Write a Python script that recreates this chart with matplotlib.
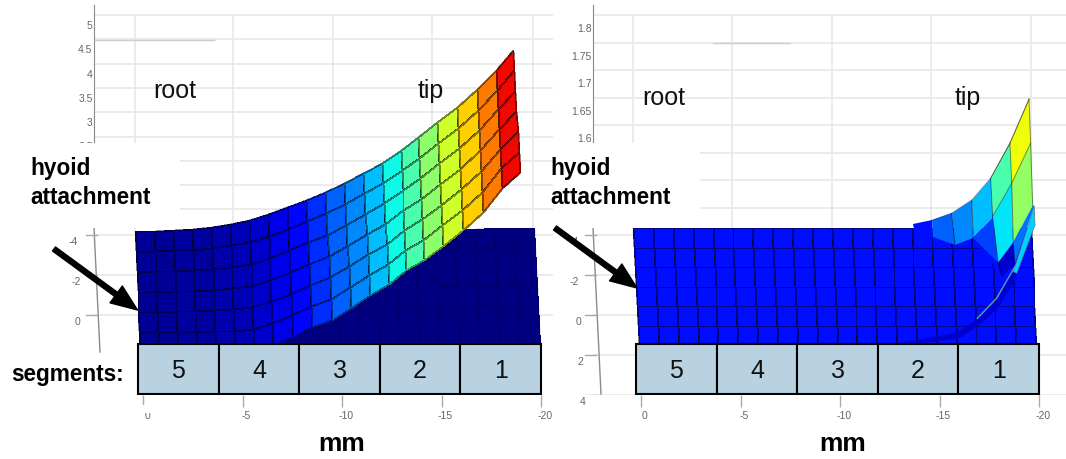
import numpy as np
import matplotlib
matplotlib.use("Agg")
import matplotlib.pyplot as plt
from matplotlib.patches import Rectangle
from matplotlib.transforms import ScaledTranslation

plt.rcParams['font.family'] = ['Liberation Sans', 'DejaVu Sans']

W, H = 1066, 459

# segment boxes (mm along the tongue)
segment_edges = [0.25, -3.8, -7.85, -11.9, -15.95, -20.0]
segment_names = ["5", "4", "3", "2", "1"]
x_ticks = [0, -5, -10, -15, -20]

# --- left panel: bent surface, root to tip ---
left_top_x = [0.40, -0.55, -1.51, -2.46, -3.42, -4.37, -5.33, -6.28, -7.24, -8.19, -9.15,
              -10.10, -11.06, -12.01, -12.96, -13.82, -14.77, -15.78, -16.78, -17.74, -18.59]
left_top_y = [-4.18, -4.2, -4.25, -4.3, -4.4, -4.55, -4.75, -5.05, -5.4, -5.75, -6.15,
              -6.6, -7.1, -7.6, -8.25, -8.9, -9.65, -10.4, -11.3, -12.25, -13.25]
left_bot_x = [0.15, -0.80, -1.76, -2.71, -3.67, -4.62, -5.58, -6.53, -7.54, -8.49, -9.50,
              -10.45, -11.41, -12.36, -13.22, -14.12, -15.08, -16.08, -17.09, -18.04, -18.94]
left_bot_y = [1.85, 1.85, 1.85, 1.85, 1.85, 1.85, 1.8, 1.5, 1.1, 0.6, 0.25,
              -0.35, -1.0, -1.55, -2.25, -2.75, -3.45, -4.25, -5.15, -6.35, -7.15]
left_vals = [0.02, 0.02, 0.03, 0.03, 0.04, 0.05, 0.07, 0.09, 0.13, 0.17,
             0.22, 0.26, 0.31, 0.37, 0.44, 0.52, 0.60, 0.69, 0.78, 0.90]
left_flat_x = [0.40, -19.65, -19.95, 0.15]  # tl, tr, br, bl
left_flat_y = [-4.15, -4.35, 1.45, 1.45]
left_flat_val = 0.0

# --- right panel: flat sheet with curled tip ---
right_flat_x = [0.40, -19.6, -19.85, 0.10]
right_flat_y = [-4.35, -4.35, 1.5, 1.5]
right_flat_val = 0.14

# curled part, one row per list, columns run towards the tip
curl_x = [[-13.68, -14.64, -15.61, -16.62, -17.57, -18.54, -19.50],
          [-13.72, -14.69, -15.78, -16.70, -17.67, -18.63, -19.58],
          [-13.72, -14.69, -15.78, -16.70, -17.95, -18.71, -19.68],
          [-13.72, -14.69, -15.78, -16.70, -18.13, -18.79, -19.76]]
curl_y = [[-4.55, -4.75, -5.09, -5.75, -6.84, -8.59, -10.79],
          [-4.3, -3.92, -3.5, -3.84, -4.92, -6.59, -8.59],
          [-4.3, -3.92, -3.5, -3.84, -2.59, -3.59, -5.5],
          [-4.3, -3.92, -3.5, -3.84, -1.92, -2.59, -5.42]]
curl_vals = [[0.14, 0.22, 0.26, 0.31, 0.44, 0.64],
             [0.14, 0.14, 0.14, 0.19, 0.35, 0.53],
             [0.14, 0.14, 0.14, 0.14, 0.07, 0.24]]

strip_x = [-19.76, -19.80, -18.88, -18.71]
strip_y = [-5.42, -4.5, -2.08, -2.17]
band_x = [-18.79, -17.90, -16.9, -15.86, -13.85, -13.02, -12.01,
          -12.01, -13.02, -16.0, -17.0, -18.0, -18.88]
band_y = [-2.42, -0.75, 0.22, 0.89, 1.25, 1.39, 1.45,
          1.55, 1.55, 1.17, 0.5, -0.42, -1.92]
edge_line_x = [-18.79, -17.87, -16.9]
edge_line_y = [-2.42, -0.84, 0.17]

# axis ticks of the 3D box
left_z_ticks = [5, 4.5, 4, 3.5, 3, 2.5, 2, 1.5, 1]
left_z_labels = ["5", "4.5", "4", "3.5", "3", "2.5", "", "", ""]
right_z_ticks = [1.8, 1.75, 1.7, 1.65, 1.6, 1.55, 1.5, 1.45]
right_z_labels = ["1.8", "1.75", "1.7", "1.65", "1.6", "", "", ""]
left_wall_x = [0.40, -4.52, -9.55, -14.52, -19.6]
right_wall_x = [0.40, -4.57, -9.6, -14.57, -19.6]
left_y_ticks = [-4, -2, 0]
left_y_label_x = [3.52, 3.37, 3.27]
right_y_ticks = [-4, -2, 0, 2, 4]
right_y_label_x = [3.37, 3.34, 3.16, 3.03, 2.93]

GRID = "#e8e8e8"
AXC = "#8a8a8a"
TXT = "#666666"


def mesh(top_x, top_y, bot_x, bot_y, rows=6):
    X = np.linspace(top_x, bot_x, rows + 1)
    Y = np.linspace(top_y, bot_y, rows + 1)
    return X, Y


def flat_mesh(cx, cy, cols=20, rows=6):
    return mesh(np.linspace(cx[0], cx[1], cols + 1), np.linspace(cy[0], cy[1], cols + 1),
                np.linspace(cx[3], cx[2], cols + 1), np.linspace(cy[3], cy[2], cols + 1), rows)


def rect(fig, x0, x1, y0, y1):
    return fig.add_axes([x0 / W, 1 - y1 / H, (x1 - x0) / W, (y1 - y0) / H])


def draw_mesh(ax, X, Y, C, zorder, alpha=0.45, lw=0.6):
    ax.pcolormesh(X, Y, C, cmap="jet", vmin=0, vmax=1, shading="flat",
                  edgecolors=(0, 0, 0, alpha), linewidth=lw, zorder=zorder)


def make_panel(fig, px0, px1, origin, wall_x, z_ticks, z_labels, z_top, z_per_px, y_ticks,
               y_label_x, spine_px, label_drop, xlabel_px, dark):
    scale = 19.9
    xl = ((origin - px0) / scale, (origin - px1) / scale)

    # back wall: z axis and its grid
    zax = rect(fig, spine_px[0], px1, 5, 225)
    zax.set_zorder(1)
    zax.set_xlim((origin - spine_px[0]) / scale, xl[1])
    zax.set_ylim(z_top - (225 - 15) * z_per_px, z_top + 10 * z_per_px)
    zax.set_yticks(z_ticks)
    zax.set_yticklabels(z_labels, fontsize=7.5, color=TXT)
    zax.set_xticks([])
    zax.tick_params(axis="y", length=0, pad=1)
    zax.grid(axis="y", color=GRID, lw=1.2)
    zax.set_axisbelow(True)
    for s in ["top", "right", "bottom"]:
        zax.spines[s].set_visible(False)
    zax.spines["left"].set_color(AXC)
    zax.patch.set_alpha(0)
    for lab in zax.get_yticklabels():
        lab.set_transform(lab.get_transform() + ScaledTranslation(0, -label_drop / 100, fig.dpi_scale_trans))

    # main axes in mm
    ax = rect(fig, px0, px1, 0, 395)
    ax.set_zorder(2)
    ax.patch.set_alpha(0)
    ax.set_xlim(*xl)
    ax.set_ylim(4, -15.75)
    for s in ax.spines.values():
        s.set_visible(False)
    ax.set_yticks([])
    ax.set_xticks(x_ticks)
    ax.set_xticklabels([str(v) for v in x_ticks], fontsize=7.5, color=TXT)
    ax.tick_params(axis="x", length=8.6, width=1, color="#aaaaaa", pad=3)
    for lab in ax.get_xticklabels():
        lab.set_transform(lab.get_transform() + ScaledTranslation(0.04, 0, fig.dpi_scale_trans))
    ax.set_xlabel("mm", fontsize=19, fontweight="bold", labelpad=8,
                  x=(xlabel_px - px0) / (px1 - px0))

    ax.vlines(wall_x, -15, -4, color=GRID, lw=1.2, zorder=0)
    ax.hlines(y_ticks, (origin - spine_px[0]) / scale, xl[1], color=GRID, lw=1.2, zorder=0)
    ax.plot([(origin - spine_px[0]) / scale, (origin - spine_px[1]) / scale],
            [-4.35, spine_px[2]], color=AXC, lw=1, zorder=1)
    for t, lx in zip(y_ticks, y_label_x):
        ax.text(lx, t + 0.35, str(t), fontsize=7.5, color=TXT, ha="center", va="center")
        ax.plot([(origin - spine_px[0] + 8) / scale, (origin - spine_px[0] - 3) / scale],
                [t, t], color="#aaaaaa", lw=1, zorder=1)

    # darker stretch of the wall grid
    ax.hlines(dark[0], dark[1], dark[2], color="#cccccc", lw=1, zorder=0)

    # segments
    lefts = segment_edges[:-1]
    widths = np.diff(segment_edges)
    ax.bar(lefts, 2.5, widths, bottom=1.45, align="edge", color="#b9d2e1",
           edgecolor="black", linewidth=1.5, zorder=6)
    for i, name in enumerate(segment_names):
        ax.text(lefts[i] + widths[i] / 2, 2.8, name, fontsize=18, ha="center", va="center",
                color="#111111", zorder=7)
    return ax


fig = plt.figure(figsize=(W / 100, H / 100), dpi=100, facecolor="white")

ax_l = make_panel(fig, 0, 553, 143, left_wall_x, left_z_ticks, left_z_labels, 5, 1 / 48.6,
                  left_y_ticks, left_y_label_x, (94, 100, 1.85), 10, 342, (-13.75, 2.46, -3.6))
ax_r = make_panel(fig, 553, 1066, 641, right_wall_x, right_z_ticks, right_z_labels, 1.8, 1 / 550,
                  right_y_ticks, right_y_label_x, (593, 601, 3.95), 13, 843, (-13.6, -3.6, -7.5))

# left surfaces
X, Y = flat_mesh(left_flat_x, left_flat_y)
draw_mesh(ax_l, X, Y, np.full((6, 20), left_flat_val), 2, alpha=0.12)
X, Y = mesh(left_top_x, left_top_y, left_bot_x, left_bot_y)
draw_mesh(ax_l, X, Y, np.tile(left_vals, (6, 1)), 3)

# right surfaces
X, Y = flat_mesh(right_flat_x, right_flat_y)
draw_mesh(ax_r, X, Y, np.full((6, 20), right_flat_val), 2)

# curled part has no edge on the folds, only along its columns and upper rows
cx, cy = np.array(curl_x), np.array(curl_y)
ax_r.pcolormesh(cx, cy, np.array(curl_vals), cmap="jet", vmin=0, vmax=1, shading="flat",
                edgecolors="none", antialiased=True, zorder=3)
for j in range(2, cx.shape[1]):
    ax_r.plot(cx[:, j], cy[:, j], color="black", alpha=0.45, lw=0.7, zorder=4)
for i in range(2):
    ax_r.plot(cx[i, 4:], cy[i, 4:], color="black", alpha=0.45, lw=0.7, zorder=4)
ax_r.plot(cx[0, 1:], cy[0, 1:], color="black", alpha=0.35, lw=0.6, zorder=4)

cmap = plt.get_cmap("jet")
ax_r.fill(band_x, band_y, color=cmap(0.07), lw=0, zorder=4)
ax_r.fill(strip_x, strip_y, color=cmap(0.33), lw=0.5, ec="#557788", zorder=4)
ax_r.plot(edge_line_x, edge_line_y, color="#55a0c0", lw=1, zorder=5)

# overlay: white masks, labels, arrows
ov = fig.add_axes([0, 0, 1, 1])
ov.set_zorder(5)
ov.set_xlim(0, W)
ov.set_ylim(H, 0)
ov.axis("off")
ov.patch.set_alpha(0)
for x0, y0, w, h in [(0, 143, 180, 85), (553, 143, 147, 85), (553, 405, 25, 25), (138, 405, 14, 8)]:
    ov.add_patch(Rectangle((x0, y0), w, h, facecolor="white", edgecolor="none", zorder=1))

for x, y, s in [(153, 91, "root"), (418, 91, "tip"), (642, 98, "root"), (955, 98, "tip")]:
    ov.text(x, y, s, fontsize=18, va="center", ha="left", color="#111111", zorder=3)
for x, y, s in [(30, 168, "hyoid"), (30, 197, "attachment"), (550, 168, "hyoid"), (550, 197, "attachment")]:
    ov.text(x, y, s, fontsize=16.3, fontweight="bold", va="center", ha="left", color="black", zorder=3)
ov.text(11, 375, "segments:", fontsize=16.3, fontweight="bold", va="center", ha="left", color="black", zorder=3)

for start, tip in [((54, 249), (137.5, 310)), ((555, 228), (637, 288))]:
    ov.annotate("", xy=tip, xytext=start,
                arrowprops=dict(facecolor="black", edgecolor="black", width=3.6,
                                headwidth=15, headlength=19, shrink=0), zorder=3)

fig.savefig("out.png", dpi=100)
